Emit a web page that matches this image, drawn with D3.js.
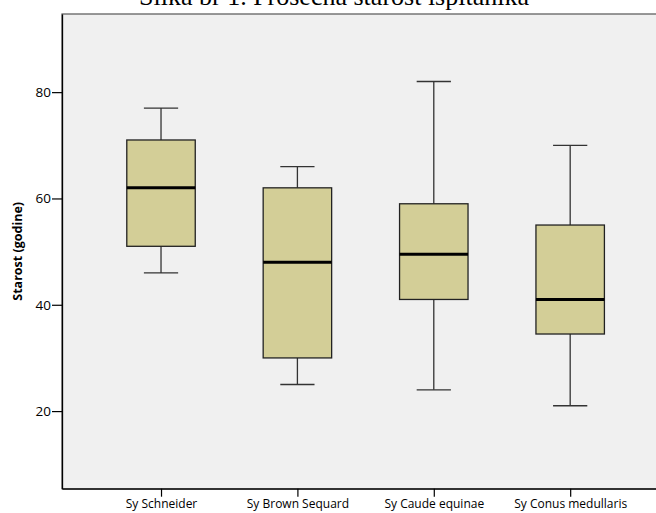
<!DOCTYPE html>
<html>
<head>
<meta charset="utf-8">
<script src="https://cdn.jsdelivr.net/npm/d3@7"></script>
<style>
    body { margin: 0; background: #ffffff; }
    svg { display: block; }
</style>
</head>
<body>
<div class="grafik"></div>
<script>
const kategorije = ["Sy Schneider", "Sy Brown Sequard", "Sy Caude equinae", "Sy Conus medullaris"];
const minimum = [46, 25, 24, 21];
const q1 = [51, 30, 41, 34.5];
const medijana = [62, 48, 49.5, 41];
const q3 = [71, 62, 59, 55];
const maksimum = [77, 66, 82, 70];
const yTicks = [20, 40, 60, 80];

function drawBoxplot() {
    const width = 656;
    const height = 513;
    const margin = { top: 14, left: 62, bottom: 24.3 };

    const data = kategorije.map((k, i) => ({
        kategorija: k,
        min: minimum[i],
        q1: q1[i],
        med: medijana[i],
        q3: q3[i],
        max: maksimum[i]
    }));

    const svg = d3.select(".grafik")
        .append("svg")
        .attr("width", width)
        .attr("height", height);

    // plot area runs past the right edge of the picture
    const x = d3.scalePoint()
        .domain(kategorije)
        .range([margin.left, 669.2])
        .padding(0.726);

    const y = d3.scaleLinear()
        .domain([5.4, 94.7])
        .range([height - margin.bottom, margin.top]);

    const step = x.step();
    const boxW = step * 0.502;
    const capW = boxW / 2;

    svg.append("rect")
        .attr("x", margin.left)
        .attr("y", margin.top)
        .attr("width", 700)
        .attr("height", height - margin.bottom - margin.top)
        .attr("fill", "#f0f0f0")
        .attr("stroke", "#555")
        .attr("stroke-width", 1.2);

    // title is cut off at the top, like in the original
    svg.append("text")
        .attr("x", 334)
        .attr("y", 5)
        .attr("text-anchor", "middle")
        .style("font-family", "Liberation Serif")
        .style("font-size", "26px")
        .style("fill", "#000")
        .text("Slika br 1. Prosečna starost ispitanika");

    const yAxis = svg.append("g")
        .attr("transform", `translate(${margin.left},0)`)
        .call(d3.axisLeft(y).tickValues(yTicks).tickSize(10).tickSizeOuter(0).tickPadding(1));
    yAxis.select(".domain").attr("stroke", "#000").attr("stroke-width", 1.3);
    yAxis.selectAll(".tick line").attr("stroke", "#000").attr("stroke-width", 1.2);
    yAxis.selectAll(".tick text")
        .style("font-family", "Open Sans")
        .style("font-size", "13.5px")
        .attr("fill", "#000");

    const xAxis = svg.append("g")
        .attr("transform", `translate(0,${height - margin.bottom})`)
        .call(d3.axisBottom(x).tickSize(8).tickSizeOuter(0).tickPadding(3));
    xAxis.select(".domain").attr("stroke", "#000").attr("stroke-width", 1.3);
    xAxis.selectAll(".tick line").attr("stroke", "#000").attr("stroke-width", 1.2);
    xAxis.selectAll(".tick text")
        .style("font-family", "Open Sans")
        .style("font-size", "12px")
        .attr("fill", "#000");

    svg.append("text")
        .attr("transform", `translate(22,${(margin.top + height - margin.bottom) / 2}) rotate(-90)`)
        .attr("text-anchor", "middle")
        .style("font-family", "Open Sans")
        .style("font-weight", "bold")
        .style("font-size", "12.5px")
        .style("fill", "#000")
        .text("Starost (godine)");

    const boxes = svg.append("g")
        .selectAll("g")
        .data(data)
        .join("g");

    // whiskers
    boxes.append("line")
        .attr("x1", d => x(d.kategorija))
        .attr("x2", d => x(d.kategorija))
        .attr("y1", d => y(d.max))
        .attr("y2", d => y(d.q3))
        .attr("stroke", "#333")
        .attr("stroke-width", 1.3);

    boxes.append("line")
        .attr("x1", d => x(d.kategorija))
        .attr("x2", d => x(d.kategorija))
        .attr("y1", d => y(d.q1))
        .attr("y2", d => y(d.min))
        .attr("stroke", "#333")
        .attr("stroke-width", 1.3);

    boxes.append("line")
        .attr("x1", d => x(d.kategorija) - capW / 2)
        .attr("x2", d => x(d.kategorija) + capW / 2)
        .attr("y1", d => y(d.max))
        .attr("y2", d => y(d.max))
        .attr("stroke", "#333")
        .attr("stroke-width", 1.3);

    boxes.append("line")
        .attr("x1", d => x(d.kategorija) - capW / 2)
        .attr("x2", d => x(d.kategorija) + capW / 2)
        .attr("y1", d => y(d.min))
        .attr("y2", d => y(d.min))
        .attr("stroke", "#333")
        .attr("stroke-width", 1.3);

    boxes.append("rect")
        .attr("x", d => x(d.kategorija) - boxW / 2)
        .attr("y", d => y(d.q3))
        .attr("width", boxW)
        .attr("height", d => y(d.q1) - y(d.q3))
        .attr("fill", "#d3ce97")
        .attr("stroke", "#222")
        .attr("stroke-width", 1.3);

    boxes.append("line")
        .attr("x1", d => x(d.kategorija) - boxW / 2)
        .attr("x2", d => x(d.kategorija) + boxW / 2)
        .attr("y1", d => y(d.med))
        .attr("y2", d => y(d.med))
        .attr("stroke", "#000")
        .attr("stroke-width", 3);
}

drawBoxplot();
</script>
</body>
</html>
